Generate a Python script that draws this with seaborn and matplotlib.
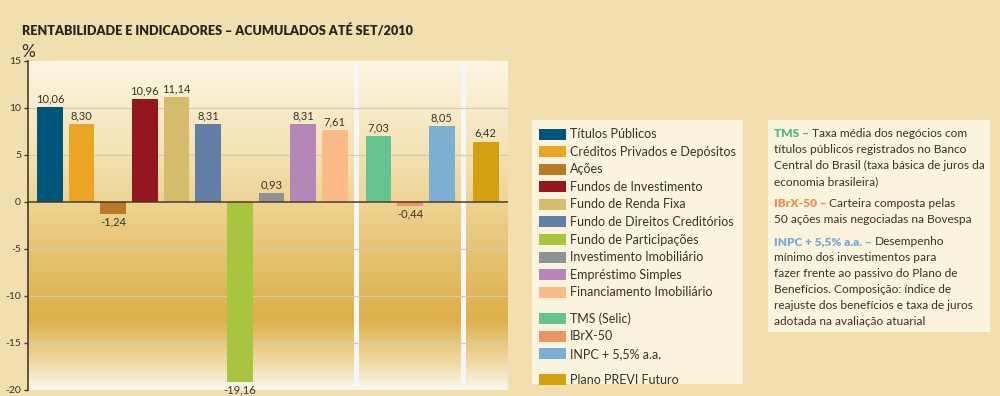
import matplotlib
matplotlib.use("Agg")
import matplotlib.pyplot as plt
import numpy as np
import pandas as pd
import seaborn as sns
from matplotlib.colors import LinearSegmentedColormap
from matplotlib.patches import Rectangle

TITLE = "RENTABILIDADE E INDICADORES – ACUMULADOS ATÉ SET/2010"

CATEGORIES = [
    "Títulos Públicos",
    "Créditos Privados e Depósitos",
    "Ações",
    "Fundos de Investimento",
    "Fundo de Renda Fixa",
    "Fundo de Direitos Creditórios",
    "Fundo de Participações",
    "Investimento Imobiliário",
    "Empréstimo Simples",
    "Financiamento Imobiliário",
    "TMS (Selic)",
    "IBrX-50",
    "INPC + 5,5% a.a.",
    "Plano PREVI Futuro",
]
VALUES = [10.06, 8.30, -1.24, 10.96, 11.14, 8.31, -19.16, 0.93, 8.31, 7.61,
          7.03, -0.44, 8.05, 6.42]
GROUPS = [0, 0, 0, 0, 0, 0, 0, 0, 0, 0, 1, 1, 1, 2]
COLORS = [
    "#00557a", "#eaa524", "#b97a26", "#94161e", "#d4bc6a", "#637fa6",
    "#a9c43e", "#8e9294", "#b487b8", "#fbbb88", "#66c28e", "#e99668",
    "#7eaed0", "#d2a010",
]
Y_TICKS = [15, 10, 5, 0, -5, -10, -15, -20]

NOTES = [
    ("TMS – ", "#4cbb84", ["Taxa média dos negócios com",
                           "títulos públicos registrados no Banco",
                           "Central do Brasil (taxa básica de juros da",
                           "economia brasileira)"]),
    ("IBrX-50 – ", "#ec8f52", ["Carteira composta pelas",
                               "50 ações mais negociadas na Bovespa"]),
    ("INPC + 5,5% a.a. – ", "#74aadb", ["Desempenho",
                                        "mínimo dos investimentos para",
                                        "fazer frente ao passivo do Plano de",
                                        "Benefícios. Composição: índice de",
                                        "reajuste dos benefícios e taxa de juros",
                                        "adotada na avaliação atuarial"]),
]

BG = "#f1dfb0"
DARK = "#3a3228"
TEXT = ["Lato", "DejaVu Sans"]

sns.set_theme(style="white")
plt.rcParams["font.family"] = TEXT

df = pd.DataFrame({"categoria": CATEGORIES, "valor": VALUES, "grupo": GROUPS})
df["pos"] = np.arange(len(df)) + df["grupo"] * 0.38

fig = plt.figure(figsize=(10, 3.96), dpi=100, facecolor=BG)
ax = fig.add_axes([0.028, 0.0152, 0.48, 0.8308])

xlim = (df["pos"].min() - 0.69, df["pos"].max() + 0.71)
ylim = (Y_TICKS[-1], Y_TICKS[0])

# background gradient
stops = [(-20, "#fbf7ea"), (-17, "#efd9a0"), (-12.5, "#dcb04a"),
         (-5, "#e6c474"), (0, "#eed394"), (5, "#f3e2b2"), (15, "#fcf5e2")]
span = ylim[1] - ylim[0]
cmap = LinearSegmentedColormap.from_list(
    "bg", [((v - ylim[0]) / span, c) for v, c in stops])
grad = np.linspace(0, 1, 400).reshape(-1, 1)
ax.imshow(grad, cmap=cmap, aspect="auto", origin="lower",
          extent=[xlim[0], xlim[1], ylim[0], ylim[1]], zorder=0)

# white separators between groups
for g in sorted(df["grupo"].unique())[1:]:
    left = df.loc[df["grupo"] == g - 1, "pos"].max()
    right = df.loc[df["grupo"] == g, "pos"].min()
    mid = (left + right) / 2
    ax.axvspan(mid - 0.08, mid + 0.08, color="#f5f6fa", zorder=0.5, lw=0)

for t in Y_TICKS:
    if t not in (0, Y_TICKS[0], Y_TICKS[-1]):
        ax.axhline(t, color="#d6cab2", lw=0.9, zorder=1)

sns.barplot(data=df, x="pos", y="valor", hue="categoria",
            palette=dict(zip(CATEGORIES, COLORS)), native_scale=True,
            dodge=False, width=0.82, legend=False, ax=ax, zorder=2,
            saturation=1, linewidth=0, edgecolor="none")

for _, r in df.iterrows():
    lab = f"{r['valor']:.2f}".replace(".", ",")
    up = r["valor"] >= 0
    ax.annotate(lab, (r["pos"], r["valor"]), xytext=(0, 2 if up else -2),
                textcoords="offset points", ha="center",
                va="bottom" if up else "top", fontsize=8, color=DARK)

ax.axhline(0, color="#4a3c28", lw=1.1, zorder=3)
ax.set_xlim(xlim)
ax.set_ylim(ylim)
ax.set_xticks([])
ax.set_yticks(Y_TICKS)
ax.set_yticklabels([str(t) for t in Y_TICKS], fontsize=7.5, color=DARK)
ax.tick_params(axis="y", length=3, width=1, color="#4a3c28", pad=2, left=True)
ax.set_xlabel("")
ax.set_ylabel("")
for s in ["top", "right", "bottom"]:
    ax.spines[s].set_visible(False)
ax.spines["left"].set_color("#4a3c28")
ax.spines["left"].set_linewidth(1.2)
ax.spines["left"].set_zorder(4)

# overlay in pixel units for title, legend and notes
ov = fig.add_axes([0, 0, 1, 1], zorder=5)
ov.set_xlim(0, 1000)
ov.set_ylim(396, 0)
ov.axis("off")

ov.text(22, 35, TITLE, fontsize=9.1, fontweight="heavy", color="#2a2420",
        va="baseline")
ov.text(21, 57, "%", fontsize=12.5, color=DARK, va="baseline")

# legend box
ov.add_patch(Rectangle((532, 120), 211, 264, facecolor="#faf3dd", lw=0))
row = 134.0
prev = 0
for cat, col, g in zip(CATEGORIES, COLORS, GROUPS):
    if g != prev:
        row += 8.5
        prev = g
    ov.add_patch(Rectangle((539, row - 5.5), 27, 11, facecolor=col, lw=0))
    ov.text(570, row, cat, fontsize=9, color=DARK, va="center")
    row += 17.6

# notes box
ov.add_patch(Rectangle((768, 120), 222, 212, facecolor="#faf3dd", lw=0))
y = 137
for prefix, col, lines in NOTES:
    t = ov.text(774, y, prefix, fontsize=8.6, fontweight="heavy", color=col,
                va="baseline")
    ov.annotate(lines[0], xy=(1, 0), xycoords=t, va="bottom", fontsize=8.6,
                color=DARK)
    for ln in lines[1:]:
        y += 16
        ov.text(774, y, ln, fontsize=8.6, color=DARK, va="baseline")
    y += 22

fig.savefig("out.png", dpi=100, facecolor=BG)
